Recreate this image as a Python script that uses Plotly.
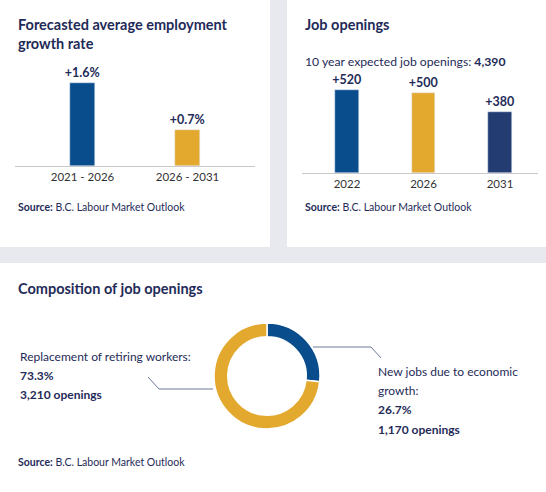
import plotly.graph_objects as go

W, H = 546, 492

# ---- data ----
growth_periods = ["2021 - 2026", "2026 - 2031"]
growth_rates = [1.6, 0.7]
growth_labels = ["+1.6%", "+0.7%"]

opening_years = ["2022", "2026", "2031"]
opening_values = [520, 500, 380]
opening_labels = ["+520", "+500", "+380"]
total_openings = "4,390"

comp_labels = ["New jobs due to economic growth", "Replacement of retiring workers"]
comp_values = [1170, 3210]
comp_pct = ["26.7%", "73.3%"]
comp_counts = ["1,170 openings", "3,210 openings"]

BLUE = "#0a4d8c"
GOLD = "#e3a92e"
NAVY = "#233d73"
TXT = "#1f2b58"
GREY_BG = "#e8e9ee"
FONT = "Lato"


def px(x):
    return x / W


def py(y):
    return 1 - y / H


fig = go.Figure()

# left bar chart
fig.add_trace(go.Bar(
    x=growth_periods, y=growth_rates, marker_color=[BLUE, GOLD],
    width=0.229, text=growth_labels, textposition="outside", constraintext="none",
    textfont=dict(family=FONT, size=12.5, color=TXT, weight="bold"),
    cliponaxis=False, xaxis="x", yaxis="y", showlegend=False, hoverinfo="skip",
))

# right bar chart
fig.add_trace(go.Bar(
    x=opening_years, y=opening_values, marker_color=[BLUE, GOLD, NAVY],
    width=0.31, text=opening_labels, textposition="outside", constraintext="none",
    textfont=dict(family=FONT, size=12.5, color=TXT, weight="bold"),
    cliponaxis=False, xaxis="x2", yaxis="y2", showlegend=False, hoverinfo="skip",
))

# donut
fig.add_trace(go.Pie(
    labels=comp_labels, values=comp_values, hole=0.74, sort=False,
    direction="clockwise", rotation=0,
    marker=dict(colors=[BLUE, GOLD], line=dict(color="white", width=1.5)),
    textinfo="none", showlegend=False, hoverinfo="skip",
    domain=dict(x=[px(214), px(320)], y=[py(429), py(323)]),
))

axis_common = dict(showgrid=False, zeroline=False, showline=True,
                   linecolor="#c9c9c9", linewidth=1, ticks="",
                   tickfont=dict(family=FONT, size=11.5, color="#333333"))

fig.update_layout(
    width=W, height=H, margin=dict(l=0, r=0, t=0, b=0),
    paper_bgcolor=GREY_BG, plot_bgcolor="rgba(0,0,0,0)",
    bargap=0,
    xaxis=dict(domain=[px(15), px(255)], range=[-0.643, 1.643], type="category",
               anchor="y", **axis_common),
    yaxis=dict(domain=[py(166), py(60)], range=[0, 106 / 52], visible=False),
    xaxis2=dict(domain=[px(302), px(538)], range=[-0.588, 2.497], type="category",
                anchor="y2", **axis_common),
    yaxis2=dict(domain=[py(173), py(75)], range=[0, 98 / 0.16], visible=False),
)

# panels (white backgrounds)
for (x0, y0, x1, y1) in [(0, 0, 270, 247), (287, 0, 546, 247), (0, 263, 546, 492)]:
    fig.add_shape(type="rect", xref="paper", yref="paper",
                  x0=px(x0), x1=px(x1), y0=py(y1), y1=py(y0),
                  fillcolor="white", line_width=0, layer="below")

# leader lines
for pts in [[(313, 347), (371, 347), (381, 358)], [(213, 389), (159, 389), (148, 377)]]:
    path = "M " + " L ".join(f"{px(a)},{py(b)}" for a, b in pts)
    fig.add_shape(type="path", xref="paper", yref="paper", path=path,
                  line=dict(color="#6b7a99", width=1))


def txt(x, y, s, size=12, bold=False, color=TXT):
    fig.add_annotation(xref="paper", yref="paper", x=px(x), y=py(y),
                       xanchor="left", yanchor="middle", showarrow=False,
                       text=f"<b>{s}</b>" if bold else s,
                       font=dict(family=FONT, size=size, color=color))


# titles
txt(16, 25, "Forecasted average employment", 14.5, True)
txt(16, 43, "growth rate", 14.5, True)
txt(303, 25, "Job openings", 14.5, True)
txt(16, 288, "Composition of job openings", 14.5, True)

txt(303, 61, f"10 year expected job openings: <b>{total_openings}</b>", 12.2, False)

# sources
for x, y in [(16, 207), (303, 207), (16, 462)]:
    txt(x, y, "<b>Source:</b> B.C. Labour Market Outlook", 10.5)

# donut labels
txt(18, 356, "Replacement of retiring workers:", 12)
txt(18, 375, comp_pct[1], 12, True)
txt(18, 394, comp_counts[1], 12, True)

txt(376, 371, "New jobs due to economic", 12)
txt(376, 390, "growth:", 12)
txt(376, 409, comp_pct[0], 12, True)
txt(376, 429, comp_counts[0], 12, True)

fig.write_html("out.html", config={"displayModeBar": False},
               post_script="document.body.style.margin='0';")
